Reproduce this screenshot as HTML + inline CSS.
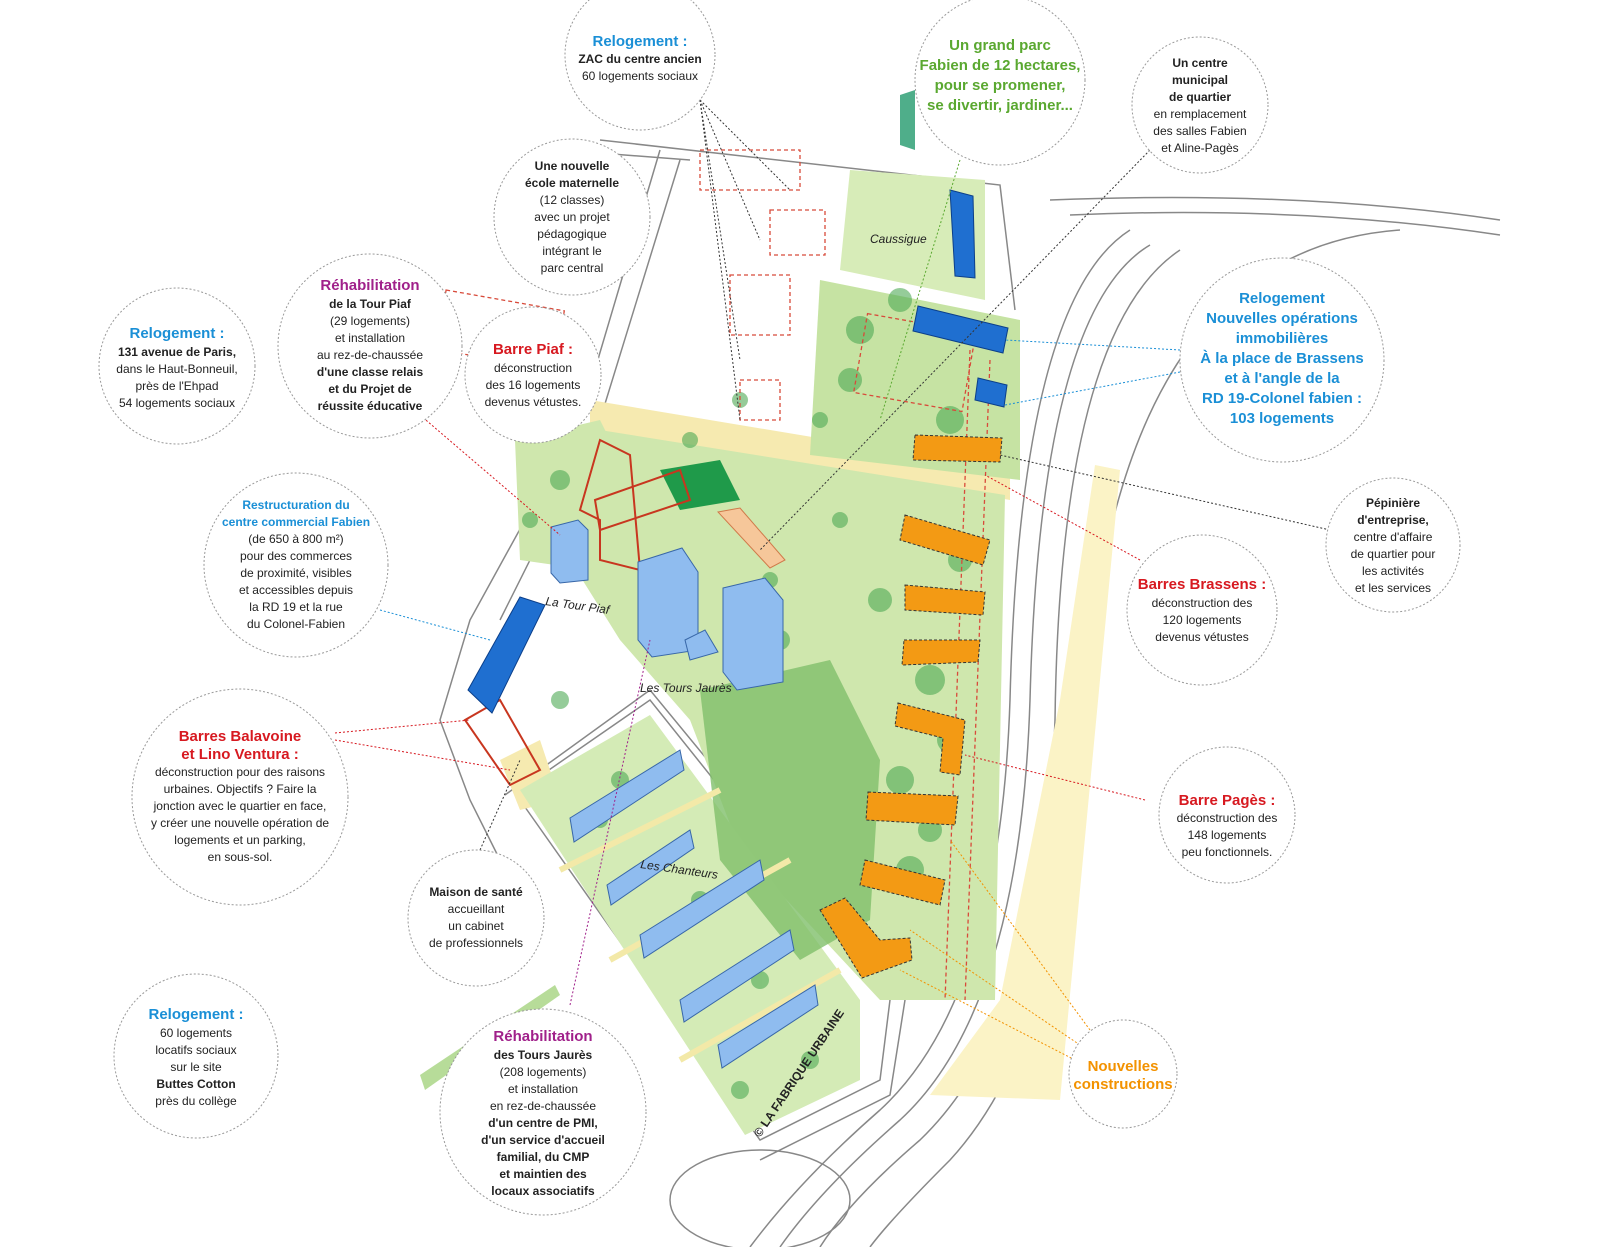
<!DOCTYPE html>
<html><head><meta charset="utf-8"><style>
html,body{margin:0;padding:0;background:#fff}
svg{display:block}
text{font-family:"Liberation Sans",sans-serif;font-size:12px;fill:#222}
.t{font-weight:bold;font-size:15px}
.b{font-weight:bold}
.c{fill:#fff;stroke:#999;stroke-width:1;stroke-dasharray:2 2}
</style></head><body>
<svg width="1600" height="1247" viewBox="0 0 1600 1247">
<rect width="1600" height="1247" fill="#fff"/>
<!-- roads -->
<g fill="none" stroke="#888" stroke-width="1.5">
<path d="M1050 200 Q1300 190 1500 220"/><path d="M1070 215 Q1300 205 1500 235"/>
<path d="M1130 230 Q1020 300 1010 700 Q1000 1000 880 1110 Q800 1180 750 1247"/>
<path d="M1150 245 Q1040 310 1030 700 Q1020 1010 900 1120 Q820 1190 780 1247"/>
<path d="M1180 250 Q1060 330 1055 720 Q1045 1020 920 1140 Q850 1200 820 1247"/>
<path d="M1400 230 Q1120 250 1085 700 Q1070 1030 950 1160 Q890 1220 870 1247"/>
<path d="M660 150 L580 420 L470 620 L440 720 L470 800 L500 860"/>
<path d="M680 160 L600 420 L500 620"/>
<path d="M600 140 L1000 185 L1015 310"/>
<path d="M560 150 L690 160"/>
<path d="M520 790 L650 700 L890 1000 L880 1080 L760 1140 L520 800"/>
<path d="M505 795 L650 690 L905 1000 L890 1095 L760 1160"/>
<path d="M600 560 L700 640 M620 550 L720 630"/>
<ellipse cx="760" cy="1200" rx="90" ry="50"/>
</g>
<!-- yellow strips -->
<polygon points="1095,465 1120,470 1060,1100 930,1095 1000,1000 1060,700" fill="#fbf3c6"/>
<polygon points="590,400 1010,470 1010,500 590,430" fill="#f6eab0"/>
<polygon points="500,760 540,740 560,800 520,810" fill="#f6eab0"/>
<!-- greens -->
<polygon points="850,170 985,180 985,300 840,270" fill="#d7ecb8"/>
<polygon points="820,280 1020,320 1020,480 810,455" fill="#c6e3a3"/>
<polygon points="600,430 1005,495 995,1000 880,1000 740,850 690,720 620,640 570,560" fill="#cfe7ad"/>
<polygon points="520,790 650,715 860,1000 860,1080 745,1135" fill="#d4ebb6"/>
<polygon points="700,690 830,660 880,760 870,920 800,960 720,860" fill="#7fbf6a" opacity=".8"/>
<polygon points="515,440 600,420 650,520 590,570 520,560" fill="#cfe7ad"/>
<polygon points="660,470 720,460 740,500 680,510" fill="#1f9a4a"/>
<polygon points="900,95 915,90 915,150 900,145" fill="#4fae8a"/>
<polygon points="420,1075 555,985 560,995 425,1090" fill="#b7dc99"/>
<!-- yellow paths in chanteurs -->
<g stroke="#f3e9a8" stroke-width="6">
<line x1="560" y1="870" x2="720" y2="790"/><line x1="610" y1="960" x2="790" y2="860"/><line x1="680" y1="1060" x2="840" y2="970"/>
</g>
<!-- tree clusters -->
<g fill="#4faa55" opacity=".6">
<circle cx="860" cy="330" r="14"/><circle cx="900" cy="300" r="12"/><circle cx="950" cy="420" r="14"/>
<circle cx="880" cy="600" r="12"/><circle cx="930" cy="680" r="15"/><circle cx="900" cy="780" r="14"/>
<circle cx="910" cy="870" r="14"/><circle cx="560" cy="480" r="10"/><circle cx="740" cy="400" r="8"/>
<circle cx="820" cy="420" r="8"/><circle cx="690" cy="440" r="8"/><circle cx="770" cy="580" r="8"/>
<circle cx="850" cy="380" r="12"/><circle cx="960" cy="560" r="12"/><circle cx="950" cy="740" r="13"/>
<circle cx="930" cy="830" r="12"/><circle cx="780" cy="640" r="10"/><circle cx="840" cy="520" r="8"/>
<circle cx="620" cy="780" r="9"/><circle cx="700" cy="900" r="9"/><circle cx="760" cy="980" r="9"/>
<circle cx="600" cy="820" r="8"/><circle cx="740" cy="1090" r="9"/><circle cx="810" cy="1060" r="9"/>
<circle cx="530" cy="520" r="8"/><circle cx="560" cy="700" r="9"/>
</g>
<!-- red dashed outlines (demolished) -->
<g fill="none" stroke="#d84a3a" stroke-width="1.3" stroke-dasharray="4 3">
<rect x="700" y="150" width="100" height="40"/><rect x="770" y="210" width="55" height="45"/>
<rect x="730" y="275" width="60" height="60"/><rect x="440" y="300" width="120" height="60" transform="rotate(10 500 330)"/>
<rect x="740" y="380" width="40" height="40"/><rect x="860" y="320" width="110" height="80" transform="rotate(10 900 360)"/>
<path d="M970 350 L945 1000 M990 360 L965 1000"/>
</g>
<g fill="none" stroke="#c8361f" stroke-width="2">
<polygon points="600,440 630,455 640,570 600,560 600,520 580,510"/>
<polygon points="595,500 680,470 690,500 600,530"/>
<polygon points="465,720 500,700 540,770 510,785"/>
</g>
<!-- orange new buildings -->
<g fill="#f39a14" stroke="#333" stroke-width="1" stroke-dasharray="3 2">
<polygon points="915,435 1002,438 1000,462 913,460"/>
<polygon points="905,515 990,540 983,565 900,540"/>
<polygon points="905,585 985,592 983,615 905,610"/>
<polygon points="904,640 980,640 978,662 902,665"/>
<polygon points="898,703 965,720 960,775 940,772 943,738 895,726"/>
<polygon points="868,792 958,796 955,825 866,820"/>
<polygon points="865,860 945,880 940,905 860,885"/>
<polygon points="820,910 845,898 880,940 910,938 912,960 862,978"/>
</g>
<polygon points="718,512 740,508 785,560 770,568" fill="#f6c79a" stroke="#d07a4a"/>
<!-- blue buildings -->
<g fill="#1f6fd0" stroke="#0b3f8a">
<polygon points="918,306 1008,328 1003,353 913,331"/>
<polygon points="978,378 1007,385 1004,407 975,400"/>
<polygon points="468,690 520,597 545,605 492,713"/>
<polygon points="950,190 973,196 975,278 955,276"/>
</g>
<g fill="#8fbcef" stroke="#3867a8">
<polygon points="638,562 682,548 698,572 698,650 652,657 638,640"/>
<polygon points="723,588 765,578 783,600 783,682 737,690 723,672"/>
<polygon points="551,527 578,520 588,530 588,580 560,583 551,573"/>
<polygon points="685,640 705,630 718,652 690,660"/>
<polygon points="570,818 680,750 684,770 574,842"/>
<polygon points="607,885 690,830 694,848 611,905"/>
<polygon points="640,935 760,860 764,880 644,958"/>
<polygon points="680,1000 790,930 794,950 684,1022"/>
<polygon points="718,1045 815,985 818,1005 722,1068"/>
</g>
<!-- handwritten labels -->
<g style="font-family:'Liberation Serif',serif;font-style:italic;font-size:16px">
<text x="870" y="243">Caussigue</text>
<text x="545" y="605" transform="rotate(8 545 605)">La Tour Piaf</text>
<text x="640" y="692">Les Tours Jaurès</text>
<text x="640" y="868" font-size="18" transform="rotate(8 640 868)">Les Chanteurs</text>
</g>
<text x="760" y="1138" transform="rotate(-56 760 1138)" class="b" font-size="12">© LA FABRIQUE URBAINE</text>
<!-- leader lines -->
<g fill="none" stroke-width="1" stroke-dasharray="2 2">
<path d="M700 100 L760 240 M700 100 L740 360 M700 100 L790 190 M700 100 L740 420" stroke="#333"/>
<path d="M960 160 L880 420" stroke="#5aa830"/>
<path d="M1150 150 L760 550" stroke="#333"/>
<path d="M1180 350 L1005 340 M1180 372 L1005 405" stroke="#1a8fd6"/>
<path d="M1330 530 L1000 455" stroke="#333"/>
<path d="M1140 560 L985 475" stroke="#d71920"/>
<path d="M1145 800 L965 755" stroke="#d71920"/>
<path d="M420 415 L560 535" stroke="#d71920"/>
<path d="M380 610 L490 640" stroke="#1a8fd6"/>
<path d="M335 733 L470 720 M335 740 L510 770" stroke="#d71920"/>
<path d="M480 850 L520 760" stroke="#333"/>
<path d="M570 1005 L650 640" stroke="#a0208a"/>
<path d="M1090 1030 L950 840 M1080 1045 L910 930 M1075 1060 L900 970" stroke="#f39200"/>
</g>
<!-- callouts -->
<circle class="c" cx="640" cy="55" r="75"/>
<text x="640" text-anchor="middle"><tspan class="t" x="640" y="46" fill="#1a8fd6">Relogement :</tspan><tspan class="b" x="640" y="63">ZAC du centre ancien</tspan><tspan x="640" y="80">60 logements sociaux</tspan></text>
<circle class="c" cx="1000" cy="80" r="85"/>
<text text-anchor="middle" class="t" fill="#5aa830"><tspan x="1000" y="50" fill="#5aa830">Un grand parc</tspan><tspan x="1000" y="70" fill="#5aa830">Fabien de 12 hectares,</tspan><tspan x="1000" y="90" fill="#5aa830">pour se promener,</tspan><tspan x="1000" y="110" fill="#5aa830">se divertir, jardiner...</tspan></text>
<circle class="c" cx="1200" cy="105" r="68"/>
<text text-anchor="middle"><tspan class="b" x="1200" y="67">Un centre</tspan><tspan class="b" x="1200" y="84">municipal</tspan><tspan class="b" x="1200" y="101">de quartier</tspan><tspan x="1200" y="118">en remplacement</tspan><tspan x="1200" y="135">des salles Fabien</tspan><tspan x="1200" y="152">et Aline-Pagès</tspan></text>
<circle class="c" cx="572" cy="217" r="78"/>
<text text-anchor="middle"><tspan class="b" x="572" y="170">Une nouvelle</tspan><tspan class="b" x="572" y="187">école maternelle</tspan><tspan x="572" y="204">(12 classes)</tspan><tspan x="572" y="221">avec un projet</tspan><tspan x="572" y="238">pédagogique</tspan><tspan x="572" y="255">intégrant le</tspan><tspan x="572" y="272">parc central</tspan></text>
<circle class="c" cx="177" cy="366" r="78"/>
<text text-anchor="middle"><tspan class="t" x="177" y="338" fill="#1a8fd6">Relogement :</tspan><tspan class="b" x="177" y="356">131 avenue de Paris,</tspan><tspan x="177" y="373">dans le Haut-Bonneuil,</tspan><tspan x="177" y="390">près de l'Ehpad</tspan><tspan x="177" y="407">54 logements sociaux</tspan></text>
<circle class="c" cx="370" cy="346" r="92"/>
<text text-anchor="middle"><tspan class="t" x="370" y="290" fill="#a0208a">Réhabilitation</tspan><tspan class="b" x="370" y="308">de la Tour Piaf</tspan><tspan x="370" y="325">(29 logements)</tspan><tspan x="370" y="342">et installation</tspan><tspan x="370" y="359">au rez-de-chaussée</tspan><tspan class="b" x="370" y="376">d'une classe relais</tspan><tspan class="b" x="370" y="393">et du Projet de</tspan><tspan class="b" x="370" y="410">réussite éducative</tspan></text>
<circle class="c" cx="533" cy="375" r="68"/>
<text text-anchor="middle"><tspan class="t" x="533" y="354" fill="#d71920">Barre Piaf :</tspan><tspan x="533" y="372">déconstruction</tspan><tspan x="533" y="389">des 16 logements</tspan><tspan x="533" y="406">devenus vétustes.</tspan></text>
<circle class="c" cx="1282" cy="360" r="102"/>
<text text-anchor="middle" class="t"><tspan x="1282" y="303" fill="#1a8fd6">Relogement</tspan><tspan x="1282" y="323" fill="#1a8fd6">Nouvelles opérations</tspan><tspan x="1282" y="343" fill="#1a8fd6">immobilières</tspan><tspan x="1282" y="363" fill="#1a8fd6">À la place de Brassens</tspan><tspan x="1282" y="383" fill="#1a8fd6">et à l'angle de la</tspan><tspan x="1282" y="403" fill="#1a8fd6">RD 19-Colonel fabien :</tspan><tspan x="1282" y="423" fill="#1a8fd6">103 logements</tspan></text>
<circle class="c" cx="1393" cy="545" r="67"/>
<text text-anchor="middle"><tspan class="b" x="1393" y="507">Pépinière</tspan><tspan class="b" x="1393" y="524">d'entreprise,</tspan><tspan x="1393" y="541">centre d'affaire</tspan><tspan x="1393" y="558">de quartier pour</tspan><tspan x="1393" y="575">les activités</tspan><tspan x="1393" y="592">et les services</tspan></text>
<circle class="c" cx="296" cy="565" r="92"/>
<text text-anchor="middle"><tspan class="b" x="296" y="509" fill="#1a8fd6">Restructuration du</tspan><tspan class="b" x="296" y="526" fill="#1a8fd6">centre commercial Fabien</tspan><tspan x="296" y="543">(de 650 à 800 m²)</tspan><tspan x="296" y="560">pour des commerces</tspan><tspan x="296" y="577">de proximité, visibles</tspan><tspan x="296" y="594">et accessibles depuis</tspan><tspan x="296" y="611">la RD 19 et la rue</tspan><tspan x="296" y="628">du Colonel-Fabien</tspan></text>
<circle class="c" cx="1202" cy="610" r="75"/>
<text text-anchor="middle"><tspan class="t" x="1202" y="589" fill="#d71920">Barres Brassens :</tspan><tspan x="1202" y="607">déconstruction des</tspan><tspan x="1202" y="624">120 logements</tspan><tspan x="1202" y="641">devenus vétustes</tspan></text>
<circle class="c" cx="240" cy="797" r="108"/>
<text text-anchor="middle"><tspan class="t" x="240" y="741" fill="#d71920">Barres Balavoine</tspan><tspan class="t" x="240" y="759" fill="#d71920">et Lino Ventura :</tspan><tspan x="240" y="776">déconstruction pour des raisons</tspan><tspan x="240" y="793">urbaines. Objectifs ? Faire la</tspan><tspan x="240" y="810">jonction avec le quartier en face,</tspan><tspan x="240" y="827">y créer une nouvelle opération de</tspan><tspan x="240" y="844">logements et un parking,</tspan><tspan x="240" y="861">en sous-sol.</tspan></text>
<circle class="c" cx="1227" cy="815" r="68"/>
<text text-anchor="middle"><tspan class="t" x="1227" y="805" fill="#d71920">Barre Pagès :</tspan><tspan x="1227" y="822">déconstruction des</tspan><tspan x="1227" y="839">148 logements</tspan><tspan x="1227" y="856">peu fonctionnels.</tspan></text>
<circle class="c" cx="476" cy="918" r="68"/>
<text text-anchor="middle"><tspan class="b" x="476" y="896">Maison de santé</tspan><tspan x="476" y="913">accueillant</tspan><tspan x="476" y="930">un cabinet</tspan><tspan x="476" y="947">de professionnels</tspan></text>
<circle class="c" cx="196" cy="1056" r="82"/>
<text text-anchor="middle"><tspan class="t" x="196" y="1019" fill="#1a8fd6">Relogement :</tspan><tspan x="196" y="1037">60 logements</tspan><tspan x="196" y="1054">locatifs sociaux</tspan><tspan x="196" y="1071">sur le site</tspan><tspan class="b" x="196" y="1088">Buttes Cotton</tspan><tspan x="196" y="1105">près du collège</tspan></text>
<circle class="c" cx="543" cy="1112" r="103"/>
<text text-anchor="middle"><tspan class="t" x="543" y="1041" fill="#a0208a">Réhabilitation</tspan><tspan class="b" x="543" y="1059">des Tours Jaurès</tspan><tspan x="543" y="1076">(208 logements)</tspan><tspan x="543" y="1093">et installation</tspan><tspan x="543" y="1110">en rez-de-chaussée</tspan><tspan class="b" x="543" y="1127">d'un centre de PMI,</tspan><tspan class="b" x="543" y="1144">d'un service d'accueil</tspan><tspan class="b" x="543" y="1161">familial, du CMP</tspan><tspan class="b" x="543" y="1178">et maintien des</tspan><tspan class="b" x="543" y="1195">locaux associatifs</tspan></text>
<circle class="c" cx="1123" cy="1074" r="54"/>
<text text-anchor="middle" class="t"><tspan x="1123" y="1071" fill="#f39200">Nouvelles</tspan><tspan x="1123" y="1089" fill="#f39200">constructions</tspan></text>
</svg>
</body></html>
